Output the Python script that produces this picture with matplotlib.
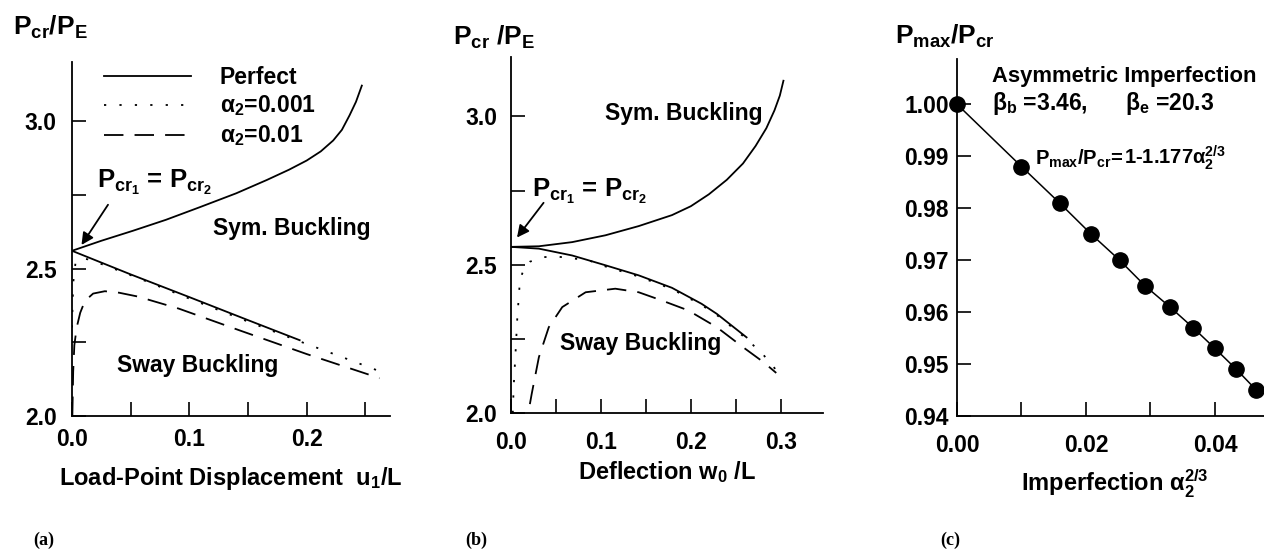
import matplotlib
matplotlib.use('Agg')
import matplotlib.pyplot as plt

plt.rcParams['font.family'] = ['Liberation Sans', 'DejaVu Sans']
plt.rcParams['font.weight'] = 'bold'
plt.rcParams['mathtext.fontset'] = 'custom'
plt.rcParams['mathtext.rm'] = 'Liberation Sans:bold'
plt.rcParams['mathtext.it'] = 'Liberation Sans:bold'
plt.rcParams['mathtext.bf'] = 'Liberation Sans:bold'
plt.rcParams['mathtext.default'] = 'rm'
plt.rcParams['lines.scale_dashes'] = False

# (a) load-point displacement u1/L vs Pcr/PE
a_sym_x = [0.000, 0.025, 0.052, 0.080, 0.109, 0.140, 0.166, 0.185, 0.200, 0.212, 0.2226, 0.230, 0.2365, 0.242, 0.247]
a_sym_y = [2.560, 2.594, 2.628, 2.665, 2.708, 2.755, 2.800, 2.835, 2.866, 2.897, 2.934, 2.970, 3.019, 3.065, 3.120]
a_sway_x = [0.000, 0.050, 0.100, 0.150, 0.194]
a_sway_y = [2.560, 2.480, 2.403, 2.325, 2.257]
a_imp1_x = [0.000, 0.001, 0.003, 0.008, 0.015, 0.030, 0.060, 0.100, 0.150, 0.194, 0.230, 0.260]
a_imp1_y = [2.300, 2.450, 2.520, 2.535, 2.530, 2.508, 2.462, 2.398, 2.320, 2.253, 2.200, 2.155]
a_imp2_x = [0.0003, 0.001, 0.002, 0.004, 0.007, 0.011, 0.018, 0.028, 0.040, 0.056, 0.091, 0.143, 0.200, 0.254, 0.262]
a_imp2_y = [2.000, 2.150, 2.240, 2.300, 2.350, 2.390, 2.415, 2.423, 2.418, 2.405, 2.364, 2.290, 2.210, 2.139, 2.128]

# (b) deflection w0/L vs Pcr/PE
b_sym_x = [0.000, 0.031, 0.068, 0.105, 0.142, 0.179, 0.200, 0.220, 0.240, 0.258, 0.272, 0.284, 0.293, 0.299, 0.303]
b_sym_y = [2.560, 2.562, 2.576, 2.599, 2.630, 2.667, 2.697, 2.737, 2.786, 2.841, 2.900, 2.960, 3.020, 3.070, 3.120]
b_sway_x = [0.000, 0.031, 0.068, 0.105, 0.142, 0.179, 0.212, 0.229, 0.262]
b_sway_y = [2.560, 2.554, 2.531, 2.498, 2.464, 2.422, 2.368, 2.334, 2.255]
b_imp1_x = [0.002, 0.003, 0.005, 0.007, 0.010, 0.015, 0.021, 0.035, 0.049, 0.086, 0.105, 0.142,
            0.179, 0.212, 0.229, 0.262, 0.281, 0.299]
b_imp1_y = [2.000, 2.090, 2.200, 2.320, 2.450, 2.490, 2.510, 2.525, 2.528, 2.515, 2.494, 2.460,
            2.418, 2.364, 2.330, 2.250, 2.195, 2.130]
b_imp2_x = [0.021, 0.023, 0.031, 0.042, 0.057, 0.083, 0.116, 0.142, 0.168, 0.197, 0.229, 0.258, 0.281, 0.295]
b_imp2_y = [2.030, 2.064, 2.188, 2.289, 2.357, 2.407, 2.419, 2.407, 2.379, 2.346, 2.289, 2.222, 2.171, 2.135]

# (c) imperfection alpha2^(2/3) vs Pmax/Pcr
c_x = [0.0000, 0.0100, 0.0159, 0.0208, 0.0252, 0.0292, 0.0330, 0.0366, 0.0400, 0.0433, 0.0464]
c_y = [1.000, 0.988, 0.981, 0.975, 0.970, 0.965, 0.961, 0.957, 0.953, 0.949, 0.945]

W, H = 1264, 555
fig = plt.figure(figsize=(W / 100, H / 100), dpi=100)


def box(l, r, t, b):
    return [l / W, 1 - b / H, (r - l) / W, (b - t) / H]


FS = 16.5
FL = 19      # y-axis titles
FA = 18.5    # Pcr1 = Pcr2 annotation
LW = 1.3
DASH = (14, 8)
DOT = (1.6, 9.5)


def style(ax, ypad, xpad):
    for s in ['top', 'right']:
        ax.spines[s].set_visible(False)
    for s in ['left', 'bottom']:
        ax.spines[s].set_linewidth(1.3)
    ax.tick_params(which='both', direction='in', length=10, width=1.2, labelsize=FS)
    ax.tick_params(axis='y', which='both', pad=ypad)
    ax.tick_params(axis='x', which='both', pad=xpad)


# ---- panel (a)
ax1 = fig.add_axes(box(72, 390, 62, 416))
ax1.plot(a_sym_x, a_sym_y, color='black', lw=LW)
ax1.plot(a_sway_x, a_sway_y, color='black', lw=LW, label='Perfect')
ax1.plot(a_imp1_x, a_imp1_y, color='black', lw=LW, ls=(0, DOT), label=r'$\alpha_2$=0.001')
ax1.plot(a_imp2_x, a_imp2_y, color='black', lw=LW, ls=(0, DASH), label=r'$\alpha_2$=0.01')
ax1.set_xlim(0, 0.271)
ax1.set_ylim(2.0, 3.2)
ax1.set_xticks([0.0, 0.1, 0.2])
ax1.set_xticks([0.05, 0.15, 0.25], minor=True)
ax1.set_yticks([2.0, 2.5, 3.0])
ax1.set_yticks([2.25, 2.75], minor=True)
ax1.set_xticklabels(['0.0', '0.1', '0.2'])
ax1.set_yticklabels(['2.0', '2.5', '3.0'])
style(ax1, 11, 9)
ax1.legend(loc='upper left', bbox_to_anchor=(0.1, 0.99), frameon=False, fontsize=FS,
           handlelength=3.8, handletextpad=1.25, labelspacing=0.22, borderpad=0, borderaxespad=0)
ax1.text(0.0213, 2.775, r'$P_{cr_1}$ = $P_{cr_2}$', fontsize=FA, ha='left', va='baseline')
ax1.annotate('', xy=(0.0068, 2.572), xytext=(0.032, 2.724),
             arrowprops=dict(arrowstyle='-|>', color='black', lw=1.3, mutation_scale=18))
ax1.text(0.120, 2.636, 'Sym. Buckling', fontsize=FS, ha='left', va='center')
ax1.text(0.0383, 2.172, 'Sway Buckling', fontsize=FS, ha='left', va='center')

# ---- panel (b)
ax2 = fig.add_axes(box(511, 823, 57, 413))
ax2.plot(b_sym_x, b_sym_y, color='black', lw=LW)
ax2.plot(b_sway_x, b_sway_y, color='black', lw=LW)
ax2.plot(b_imp1_x, b_imp1_y, color='black', lw=LW, ls=(0, DOT))
ax2.plot(b_imp2_x, b_imp2_y, color='black', lw=LW, ls=(0, DASH))
ax2.set_xlim(0, 0.347)
ax2.set_ylim(2.0, 3.2)
ax2.set_xticks([0.0, 0.1, 0.2, 0.3])
ax2.set_xticks([0.05, 0.15, 0.25], minor=True)
ax2.set_yticks([2.0, 2.5, 3.0])
ax2.set_yticks([2.25, 2.75], minor=True)
ax2.set_xticklabels(['0.0', '0.1', '0.2', '0.3'])
ax2.set_yticklabels(['2.0', '2.5', '3.0'])
style(ax2, 10, 13)
ax2.text(0.0233, 2.728, r'$P_{cr_1}$ = $P_{cr_2}$', fontsize=FA, ha='left', va='baseline')
ax2.annotate('', xy=(0.0048, 2.584), xytext=(0.0381, 2.716),
             arrowprops=dict(arrowstyle='-|>', color='black', lw=1.3, mutation_scale=18))
ax2.text(0.105, 3.01, 'Sym. Buckling', fontsize=FS, ha='left', va='center')
ax2.text(0.0548, 2.233, 'Sway Buckling', fontsize=FS, ha='left', va='center')

# ---- panel (c)
ax3 = fig.add_axes(box(957, 1264, 59, 416))
ax3.plot(c_x, c_y, color='black', lw=1.1, marker='o', markersize=11, clip_on=False, zorder=3)
ax3.set_xlim(0, 0.0476)
ax3.set_ylim(0.94, 1.0087)
ax3.set_xticks([0.00, 0.02, 0.04])
ax3.set_xticks([0.01, 0.03], minor=True)
ax3.set_yticks([0.94, 0.95, 0.96, 0.97, 0.98, 0.99, 1.00])
ax3.set_xticklabels(['0.00', '0.02', '0.04'])
ax3.set_yticklabels(['0.94', '0.95', '0.96', '0.97', '0.98', '0.99', '1.00'])
style(ax3, 6, 13)
ax3.text(0.0054, 1.0053, 'Asymmetric Imperfection', fontsize=15.8, ha='left', va='center')
ax3.text(0.0054, 1.0002, r'$\beta_b$ =3.46,', fontsize=FS, ha='left', va='center')
ax3.text(0.0261, 1.0002, r'$\beta_e$ =20.3', fontsize=FS, ha='left', va='center')
ax3.text(0.0121, 0.9895, r'$P_{max}/P_{cr}$=', fontsize=14.5, ha='left', va='center')
ax3.text(0.0259, 0.9897, r'1-1.177$\alpha_2^{2/3}$', fontsize=14.5, ha='left', va='center')

# axis titles and panel letters
def ftext(x, y, s, **kw):
    fig.text(x / W, 1 - y / H, s, **kw)


ftext(13, 27, r'$P_{cr}/P_E$', fontsize=FL, ha='left', va='center')
ftext(453, 37, r'$P_{cr}$ /$P_E$', fontsize=FL, ha='left', va='center')
ftext(895, 36, r'$P_{max}/P_{cr}$', fontsize=FL, ha='left', va='center')
ftext(231, 478, r'Load-Point Displacement  $u_1$/L', fontsize=17, ha='center', va='center')
ftext(667, 472, r'Deflection $w_0$ /L', fontsize=17, ha='center', va='center')
ftext(1115, 484, r'Imperfection $\alpha_2^{2/3}$', fontsize=17, ha='center', va='center')
for x, lab in [(33, '(a)'), (465, '(b)'), (940, '(c)')]:
    ftext(x, 540, lab, fontsize=13, ha='left', va='center', family='Liberation Serif', weight='bold')

fig.savefig('out.png', dpi=100)
